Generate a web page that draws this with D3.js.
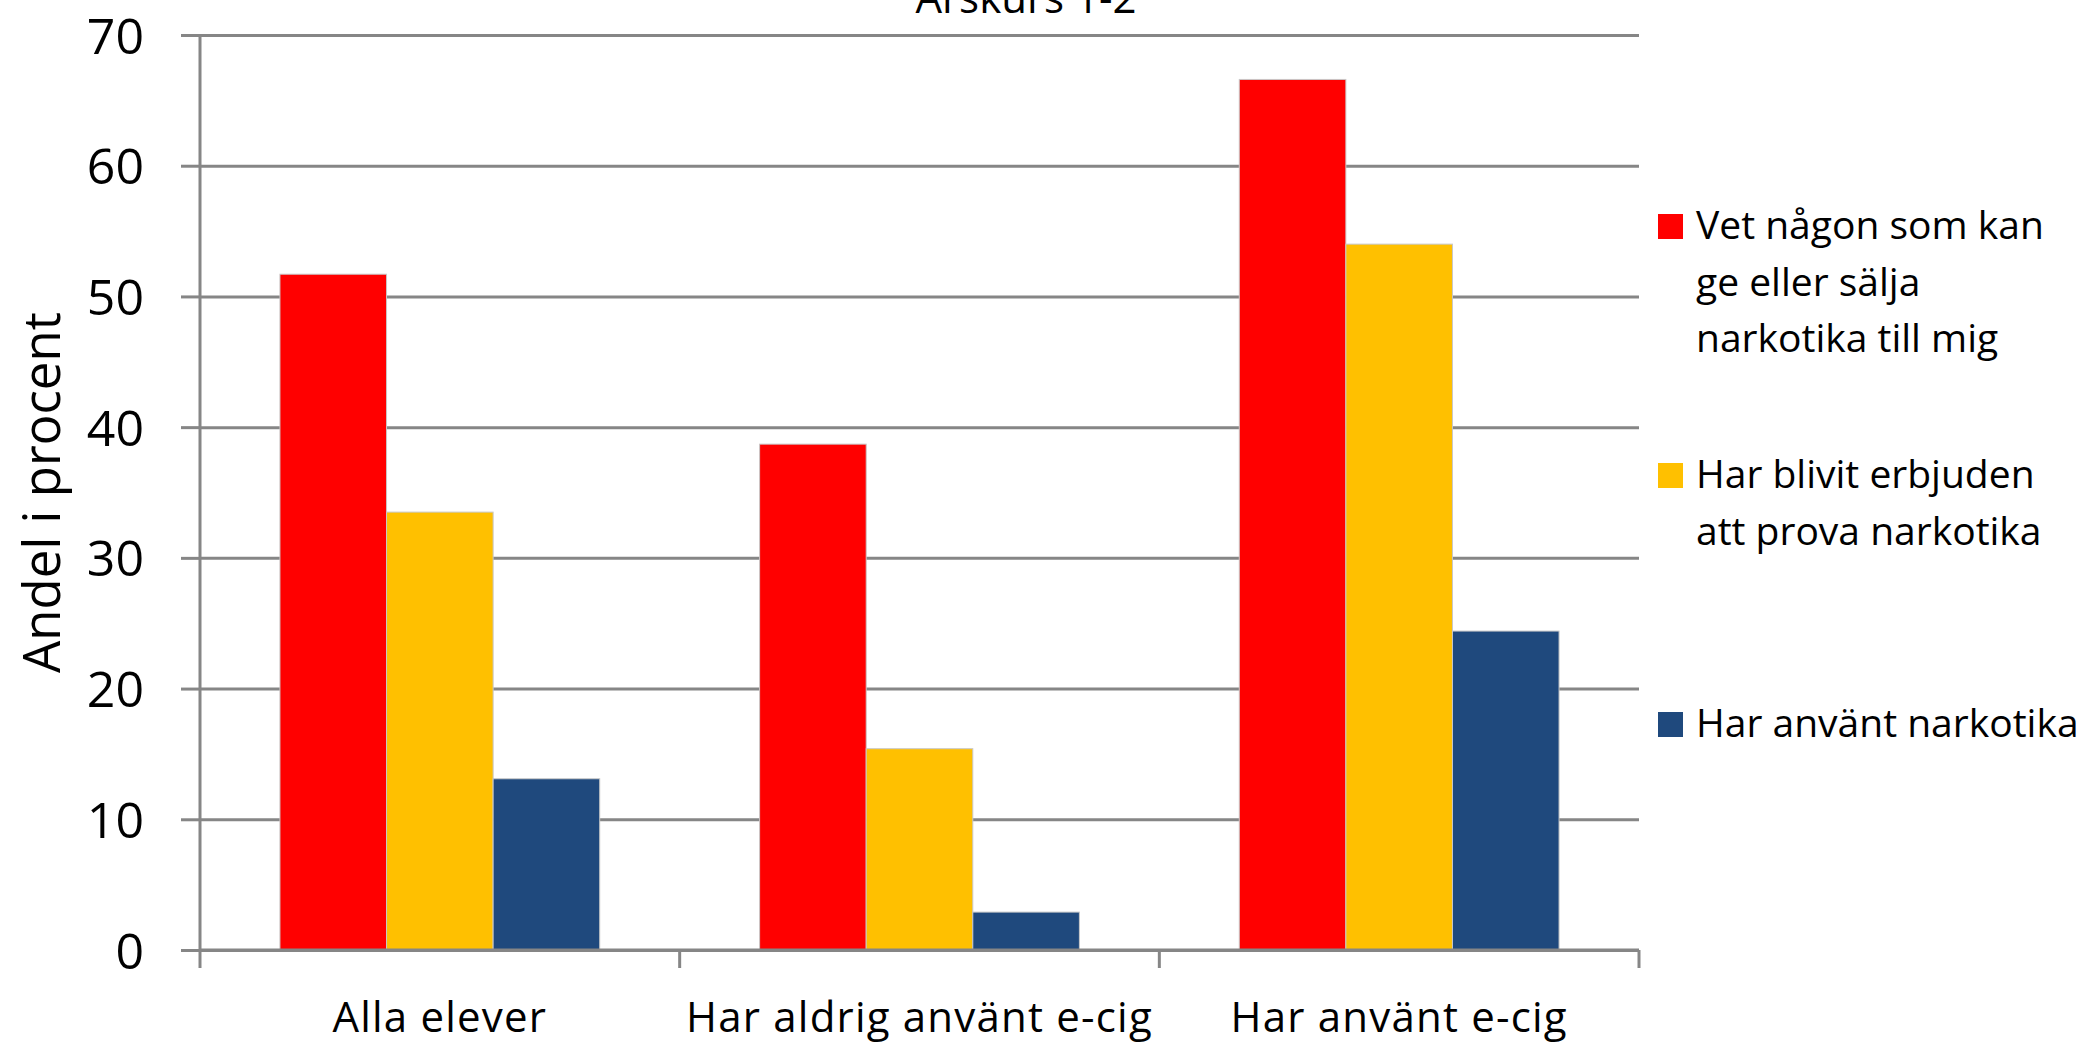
<!DOCTYPE html>
<html>
<head>
<meta charset="utf-8">
<script src="https://cdn.jsdelivr.net/npm/d3@7"></script>
<style>
  html, body { margin: 0; padding: 0; background: #ffffff; }
  svg { display: block; font-family: "Open Sans", "Noto Sans", sans-serif; }
</style>
</head>
<body>
<svg id="chart" width="2085" height="1045"></svg>
<script>
const title = "Årskurs 1-2";
const yTitle = "Andel i procent";
const categories = ["Alla elever", "Har aldrig använt e-cig", "Har använt e-cig"];
const seriesNames = [
  "Vet någon som kan ge eller sälja narkotika till mig",
  "Har blivit erbjuden att prova narkotika",
  "Har använt narkotika"
];
const legendLines = [
  ["Vet någon som kan", "ge eller sälja", "narkotika till mig"],
  ["Har blivit erbjuden", "att prova narkotika"],
  ["Har använt narkotika"]
];
const seriesColors = ["#FF0000", "#FFC000", "#1F497D"];
const valuesVet = [51.7, 38.7, 66.6];
const valuesErbjuden = [33.5, 15.4, 54.0];
const valuesAnvant = [13.1, 2.9, 24.4];
const yTicks = [0, 10, 20, 30, 40, 50, 60, 70];

const seriesValues = [valuesVet, valuesErbjuden, valuesAnvant];

const svg = d3.select("#chart");
const plot = { left: 200, right: 1639, top: 35, bottom: 950 };
const gridColor = "#868686";

const y = d3.scaleLinear().domain([0, 70]).range([plot.bottom, plot.top]);
const x0 = d3.scaleBand().domain(categories).range([plot.left, plot.right]).padding(0);
const x1 = d3.scaleBand().domain(d3.range(seriesNames.length))
  .range([0, x0.bandwidth()]).paddingInner(0).paddingOuter(0.75);

// gridlines
const grid = svg.append("g").attr("transform", `translate(${plot.left},0)`)
  .call(d3.axisLeft(y).tickValues(yTicks).tickSize(-(plot.right - plot.left)).tickFormat(""));
grid.select(".domain").remove();
grid.selectAll("line").attr("stroke", gridColor).attr("stroke-width", 3);

// bars
categories.forEach((c, ci) => {
  const g = svg.append("g").attr("transform", `translate(${x0(c)},0)`);
  seriesValues.forEach((vals, si) => {
    g.append("rect")
      .attr("x", x1(si))
      .attr("y", y(vals[ci]))
      .attr("width", x1.bandwidth())
      .attr("height", y(0) - y(vals[ci]))
      .attr("fill", seriesColors[si])
      .attr("stroke", "#c8c8c8")
      .attr("stroke-width", 1);
  });
});

// y axis
const yAxis = svg.append("g").attr("transform", `translate(${plot.left},0)`)
  .call(d3.axisLeft(y).tickValues(yTicks).tickSize(19).tickPadding(37).tickFormat(d3.format("d")));
yAxis.select(".domain").attr("stroke", gridColor).attr("stroke-width", 3)
  .attr("d", `M0,${plot.top}V${plot.bottom}`);
yAxis.selectAll(".tick line").attr("stroke", gridColor).attr("stroke-width", 3);
yAxis.selectAll(".tick text").attr("font-size", 50).attr("fill", "#000")
  .attr("font-family", "'Open Sans', sans-serif").attr("dy", "0.36em");

// x axis
const xAxis = svg.append("g").attr("transform", `translate(0,${plot.bottom})`)
  .call(d3.axisBottom(x0).tickSize(0).tickPadding(0));
xAxis.select(".domain").attr("stroke", gridColor).attr("stroke-width", 3)
  .attr("d", `M${plot.left},0H${plot.right}`);
xAxis.selectAll(".tick text").attr("font-size", 42).attr("fill", "#000")
  .attr("letter-spacing", 1.2)
  .attr("font-family", "'Open Sans', sans-serif").attr("dy", null).attr("y", 82);
const boundaries = categories.map(c => x0(c)).concat([x0(categories[categories.length - 1]) + x0.bandwidth()]);
xAxis.selectAll("line.bound").data(boundaries).enter().append("line")
  .attr("class", "bound")
  .attr("x1", d => d).attr("x2", d => d).attr("y1", 0).attr("y2", 18)
  .attr("stroke", gridColor).attr("stroke-width", 3);

// y title
svg.append("text")
  .attr("transform", `translate(60,${(plot.top + plot.bottom) / 2}) rotate(-90)`)
  .attr("text-anchor", "middle")
  .attr("font-size", 51)
  .attr("fill", "#000")
  .text(yTitle);

// title (cropped at top)
svg.append("text")
  .attr("x", 1026).attr("y", 13)
  .attr("text-anchor", "middle")
  .attr("font-size", 42)
  .attr("fill", "#000")
  .text(title);

// legend
const legendTop = [214, 463, 712];
const legend = svg.append("g");
legendLines.forEach((lines, i) => {
  legend.append("rect")
    .attr("x", 1658).attr("y", legendTop[i])
    .attr("width", 25).attr("height", 25)
    .attr("fill", seriesColors[i]);
  const t = legend.append("text")
    .attr("x", 1696).attr("y", legendTop[i] + 25)
    .attr("font-size", 39)
    .attr("fill", "#000");
  lines.forEach((ln, li) => {
    t.append("tspan").attr("x", 1696).attr("dy", li === 0 ? 0 : 56.5).text(ln);
  });
});
</script>
</body>
</html>
